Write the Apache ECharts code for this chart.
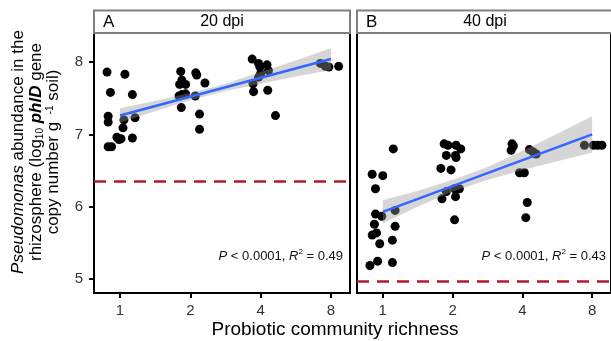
<!DOCTYPE html>
<html>
<head>
<meta charset="utf-8">
<script src="https://cdn.jsdelivr.net/npm/echarts@6/dist/echarts.min.js"></script>
<style>
  html, body { margin: 0; padding: 0; background: #fff; }
  #chart { width: 611px; height: 341px; }
</style>
</head>
<body>
<div id="chart"></div>
<script>
  var richnessTicks = [1, 2, 4, 8];
  var abundanceTicks = [5, 6, 7, 8];
  var panelLetters = ['A', 'B'];
  var panelTitles = ['20 dpi', '40 dpi'];
  var r2Labels = ['0.49', '0.43'];
  var thresholds = [6.35, 4.97];

  // jittered points: [richness, log10 copies]
  var points20 = [
    [0.88, 7.86], [1.05, 7.83], [0.91, 7.58], [1.13, 7.55], [0.89, 7.25], [0.89, 7.17], [1.16, 7.23],
    [1.04, 7.20], [1.03, 7.09], [0.97, 6.96], [1.01, 6.94], [0.99, 6.93], [1.13, 6.95], [0.89, 6.83], [0.92, 6.83],
    [1.82, 7.87], [2.11, 7.85], [2.13, 7.82], [1.84, 7.75], [1.80, 7.69], [1.91, 7.69], [2.31, 7.71],
    [1.84, 7.55], [1.91, 7.56], [1.79, 7.53], [2.10, 7.53], [1.83, 7.37], [2.19, 7.28], [2.19, 7.07],
    [3.68, 8.04], [3.92, 7.98], [4.26, 7.96], [3.97, 7.93], [4.32, 7.88], [4.00, 7.84], [3.92, 7.79],
    [3.71, 7.70], [3.73, 7.59], [4.29, 7.61], [4.63, 7.26],
    [7.21, 7.98], [7.57, 7.94], [7.84, 7.93], [8.63, 7.94]
  ];
  var points40 = [
    [1.11, 6.80], [0.90, 6.45], [1.00, 6.43], [0.93, 6.25], [0.93, 5.90], [0.99, 5.87], [0.92, 5.76], [1.13, 5.95],
    [1.13, 5.73], [0.94, 5.64], [0.90, 5.61], [0.97, 5.49], [1.10, 5.54], [0.88, 5.19], [0.95, 5.25], [1.10, 5.23],
    [1.84, 6.87], [1.91, 6.85], [2.07, 6.85], [2.17, 6.80], [1.88, 6.71], [2.06, 6.71], [2.07, 6.68], [1.78, 6.53],
    [1.97, 6.51], [1.88, 6.21], [2.04, 6.25], [2.14, 6.25], [1.80, 6.11], [2.06, 6.14], [2.04, 5.82],
    [3.61, 6.87], [3.66, 6.84], [3.58, 6.78], [4.29, 6.79], [4.44, 6.76], [4.59, 6.73], [3.89, 6.47],
    [4.08, 6.47], [4.20, 6.06], [4.14, 5.85],
    [7.41, 6.85], [8.11, 6.85], [8.46, 6.85], [8.82, 6.85]
  ];

  // fitted lines and confidence bands
  var fit20 = [[1, 7.26], [8, 8.04]];
  var fit40 = [[1, 5.93], [8, 7.00]];
  var ciX = [1, 1.41, 2, 2.83, 4, 5.66, 8];
  var ci20Upper = [7.36, 7.46, 7.57, 7.70, 7.86, 8.02, 8.19];
  var ci20Lower = [7.16, 7.32, 7.47, 7.60, 7.70, 7.80, 7.89];
  var ci40Upper = [6.09, 6.22, 6.37, 6.55, 6.77, 7.01, 7.25];
  var ci40Lower = [5.77, 6.00, 6.21, 6.37, 6.51, 6.63, 6.75];

  var font = 'Liberation Sans, Arial, sans-serif';
  var chart = echarts.init(document.getElementById('chart'), null, { renderer: 'canvas' });

  function bandSeries(idx, upper, lower) {
    return {
      type: 'custom', xAxisIndex: idx, yAxisIndex: idx, z: 3, silent: true,
      data: [[ciX[0], upper[0]]],
      renderItem: function(params, api) {
        var pts = [];
        ciX.forEach(function(x, i) { pts.push(api.coord([x, upper[i]])); });
        for (var i = ciX.length - 1; i >= 0; i--) pts.push(api.coord([ciX[i], lower[i]]));
        return { type: 'polygon', shape: { points: pts }, style: { fill: 'rgba(153,153,153,0.4)' } };
      }
    };
  }

  function xAxis(idx) {
    return {
      type: 'log', logBase: 2, gridIndex: idx, min: 0.774, max: 9.65,
      axisLine: { show: true, lineStyle: { color: '#000', width: 2 } },
      axisTick: { show: true, length: 5, customValues: richnessTicks, lineStyle: { color: '#000', width: 2 } },
      axisLabel: { customValues: richnessTicks, color: '#333', fontSize: 15, fontFamily: font, margin: 10 },
      splitLine: { show: false }
    };
  }

  function yAxis(idx) {
    return {
      type: 'value', gridIndex: idx, min: 4.81, max: 8.40,
      axisLine: { show: true, lineStyle: { color: '#000', width: 2 } },
      axisTick: { show: idx === 0, length: 5, customValues: abundanceTicks, lineStyle: { color: '#000', width: 2 } },
      axisLabel: { show: idx === 0, customValues: abundanceTicks, color: '#333', fontSize: 15, fontFamily: font, margin: 11 },
      splitLine: { show: false }
    };
  }

  function scatterSeries(idx, data) {
    return {
      type: 'scatter', xAxisIndex: idx, yAxisIndex: idx, z: 2, silent: true,
      data: data, symbolSize: 9, itemStyle: { color: '#000', opacity: 1 },
      markLine: {
        silent: true, symbol: 'none', label: { show: false },
        lineStyle: { color: '#B2182B', type: [12, 8], width: 2.5, opacity: 1 },
        data: [{ yAxis: thresholds[idx] }]
      }
    };
  }

  function lineSeries(idx, data) {
    return {
      type: 'line', xAxisIndex: idx, yAxisIndex: idx, z: 4, silent: true,
      data: data, symbol: 'none', lineStyle: { color: '#3366FF', width: 2.5 }
    };
  }

  var textRich = {
    i: { fontStyle: 'italic', fontSize: 13, fontFamily: font, fill: '#111' },
    sup: { fontSize: 8, fontFamily: font, verticalAlign: 'top', lineHeight: 16, fill: '#111' }
  };

  var graphics = [];
  [[94, 256], [357, 256]].forEach(function(g, i) {
    graphics.push({ type: 'rect', z: 10, shape: { x: g[0], y: 10.5, width: g[1], height: 22.5 },
      style: { fill: '#fff', stroke: '#808080', lineWidth: 2 } });
    graphics.push({ type: 'text', z: 11, x: g[0] + 9, y: 22,
      style: { text: panelLetters[i], font: '17px ' + font, fill: '#000', textVerticalAlign: 'middle' } });
    graphics.push({ type: 'text', z: 11, x: g[0] + g[1] / 2, y: 22,
      style: { text: panelTitles[i], font: '16px ' + font, fill: '#000', textAlign: 'center', textVerticalAlign: 'middle' } });
    graphics.push({ type: 'text', z: 11, x: i === 0 ? 343 : 606, y: 256,
      style: {
        text: '{i|P} < 0.0001, {i|R}{sup|2} = ' + r2Labels[i],
        font: '13px ' + font, fill: '#111', textAlign: 'right', textVerticalAlign: 'middle', rich: textRich
      } });
  });

  graphics.push({
    type: 'text', z: 11, x: 335, y: 330,
    style: { text: 'Probiotic community richness', font: '19px ' + font, fill: '#000', textAlign: 'center', textVerticalAlign: 'middle' }
  });
  graphics.push({
    type: 'text', z: 11, x: 36, y: 152, rotation: Math.PI / 2,
    style: {
      text: '{i|Pseudomonas} abundance in the\nrhizosphere (log{sub|10} {b|phlD} gene\ncopy number g {sup| -1} soil)',
      font: '17px ' + font, fill: '#000', textAlign: 'center', textVerticalAlign: 'middle', lineHeight: 17.5,
      rich: {
        i: { fontStyle: 'italic', fontSize: 17, fontFamily: font, lineHeight: 17.5 },
        b: { fontStyle: 'italic', fontWeight: 'bold', fontSize: 17, fontFamily: font, lineHeight: 17.5 },
        sub: { fontSize: 10, fontFamily: font, verticalAlign: 'bottom', lineHeight: 17.5 },
        sup: { fontSize: 10, fontFamily: font, verticalAlign: 'top', lineHeight: 17.5 }
      }
    }
  });

  chart.setOption({
    backgroundColor: '#fff',
    animation: false,
    grid: [
      { left: 94, top: 33, width: 256, height: 260, show: true, borderColor: '#000', borderWidth: 2, backgroundColor: '#fff' },
      { left: 357, top: 33, width: 256, height: 260, show: true, borderColor: '#000', borderWidth: 2, backgroundColor: '#fff' }
    ],
    xAxis: [xAxis(0), xAxis(1)],
    yAxis: [yAxis(0), yAxis(1)],
    series: [
      scatterSeries(0, points20), bandSeries(0, ci20Upper, ci20Lower), lineSeries(0, fit20),
      scatterSeries(1, points40), bandSeries(1, ci40Upper, ci40Lower), lineSeries(1, fit40)
    ],
    graphic: graphics
  });
</script>
</body>
</html>
